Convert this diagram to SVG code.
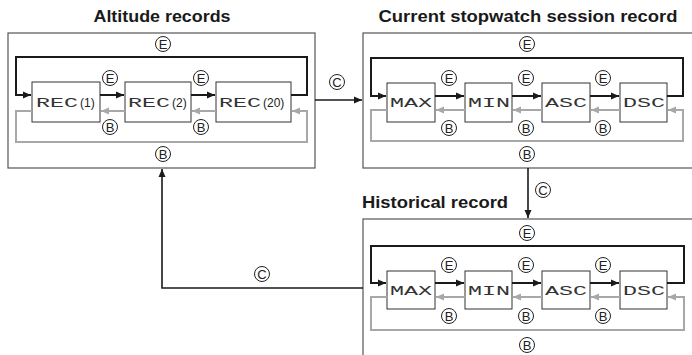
<svg xmlns="http://www.w3.org/2000/svg" width="692" height="355" viewBox="0 0 692 355">
<style>
.title{font-family:"Liberation Sans",Arial,sans-serif;font-weight:bold;font-size:16px;fill:#1a1a1a}
.panel{fill:#fff;stroke:#555;stroke-width:1.2}
.box{fill:#fff;stroke:#333;stroke-width:1}
.lcd{font-family:"Liberation Mono","DejaVu Sans Mono",monospace;font-size:13px;fill:#333}
.paren{font-family:"Liberation Sans",Arial,sans-serif;font-size:12px;fill:#222}
.blk{fill:none;stroke:#1a1a1a;stroke-width:2}
.gry{fill:none;stroke:#a8a8a8;stroke-width:2}
.conn{fill:none;stroke:#1a1a1a;stroke-width:1.6}
.ring{fill:#fff;stroke:#222;stroke-width:1}
.lt{font-family:"Liberation Sans",Arial,sans-serif;font-size:13px;fill:#222;text-anchor:middle}
</style>
<defs>
<marker id="ab" markerUnits="userSpaceOnUse" markerWidth="9" markerHeight="8" refX="8" refY="4" orient="auto"><path d="M0,0.5 L8,4 L0,7.5 z" fill="#1a1a1a"/></marker>
<marker id="ag" markerUnits="userSpaceOnUse" markerWidth="9" markerHeight="8" refX="8" refY="4" orient="auto"><path d="M0,0.5 L8,4 L0,7.5 z" fill="#a8a8a8"/></marker>
</defs>

<text class="title" x="162" y="22" text-anchor="middle" textLength="137" lengthAdjust="spacingAndGlyphs">Altitude records</text>
<text class="title" x="528" y="22" text-anchor="middle" textLength="299" lengthAdjust="spacingAndGlyphs">Current stopwatch session record</text>
<text class="title" x="362" y="208" textLength="146" lengthAdjust="spacingAndGlyphs">Historical record</text>

<!-- Panel 1 -->
<g id="altitude-records">
<rect class="panel" x="8" y="33" width="307" height="135"/>
<g id="rec1"><rect class="box" x="32" y="82" width="68" height="40"/><text class="lcd" x="36" y="107" textLength="42" lengthAdjust="spacingAndGlyphs">REC</text><text class="paren" x="80" y="107">(1)</text></g>
<g id="rec2"><rect class="box" x="125" y="82" width="66" height="40"/><text class="lcd" x="128" y="107" textLength="42" lengthAdjust="spacingAndGlyphs">REC</text><text class="paren" x="172" y="107">(2)</text></g>
<g id="rec20"><rect class="box" x="216" y="82" width="75" height="40"/><text class="lcd" x="219" y="107" textLength="42" lengthAdjust="spacingAndGlyphs">REC</text><text class="paren" x="263" y="107">(20)</text></g>
</g>

<!-- Panel 2 -->
<g id="current-session">
<rect class="panel" x="363" y="33" width="330" height="135"/>
<g id="cur-max"><rect class="box" x="387" y="83" width="48" height="39"/><text class="lcd" x="390" y="107" textLength="42" lengthAdjust="spacingAndGlyphs">MAX</text></g>
<g id="cur-min"><rect class="box" x="465" y="83" width="47" height="39"/><text class="lcd" x="468" y="107" textLength="42" lengthAdjust="spacingAndGlyphs">MIN</text></g>
<g id="cur-asc"><rect class="box" x="542" y="83" width="48" height="39"/><text class="lcd" x="545" y="107" textLength="42" lengthAdjust="spacingAndGlyphs">ASC</text></g>
<g id="cur-dsc"><rect class="box" x="620" y="83" width="47" height="39"/><text class="lcd" x="623" y="107" textLength="42" lengthAdjust="spacingAndGlyphs">DSC</text></g>
</g>

<!-- Panel 3 -->
<g id="historical-record">
<rect class="panel" x="363" y="219" width="330" height="145"/>
<g id="his-max"><rect class="box" x="387" y="271" width="48" height="38"/><text class="lcd" x="390" y="295" textLength="42" lengthAdjust="spacingAndGlyphs">MAX</text></g>
<g id="his-min"><rect class="box" x="465" y="271" width="47" height="38"/><text class="lcd" x="468" y="295" textLength="42" lengthAdjust="spacingAndGlyphs">MIN</text></g>
<g id="his-asc"><rect class="box" x="542" y="271" width="48" height="38"/><text class="lcd" x="545" y="295" textLength="42" lengthAdjust="spacingAndGlyphs">ASC</text></g>
<g id="his-dsc"><rect class="box" x="620" y="271" width="47" height="38"/><text class="lcd" x="623" y="295" textLength="42" lengthAdjust="spacingAndGlyphs">DSC</text></g>
</g>

<g id="connectors">
<!-- panel 1 -->
<path class="blk" d="M291,95 H307 V57 H16 V95 H31" marker-end="url(#ab)"/>
<path class="blk" d="M100,95 H124" marker-end="url(#ab)"/>
<path class="blk" d="M191,95 H215" marker-end="url(#ab)"/>
<path class="gry" d="M125,111 H101" marker-end="url(#ag)"/>
<path class="gry" d="M216,111 H192" marker-end="url(#ag)"/>
<path class="gry" d="M32,111 H16 V142 H307 V111 H292" marker-end="url(#ag)"/>
<!-- panel 2 -->
<path class="blk" d="M667,96 H683 V58 H371 V96 H386" marker-end="url(#ab)"/>
<path class="blk" d="M435,96 H464" marker-end="url(#ab)"/>
<path class="blk" d="M512,96 H541" marker-end="url(#ab)"/>
<path class="blk" d="M590,96 H619" marker-end="url(#ab)"/>
<path class="gry" d="M465,110 H436" marker-end="url(#ag)"/>
<path class="gry" d="M542,110 H513" marker-end="url(#ag)"/>
<path class="gry" d="M620,110 H591" marker-end="url(#ag)"/>
<path class="gry" d="M387,110 H371 V141 H683 V110 H668" marker-end="url(#ag)"/>
<!-- panel 3 -->
<path class="blk" d="M667,283 H684 V246 H371 V283 H386" marker-end="url(#ab)"/>
<path class="blk" d="M435,283 H464" marker-end="url(#ab)"/>
<path class="blk" d="M512,283 H541" marker-end="url(#ab)"/>
<path class="blk" d="M590,283 H619" marker-end="url(#ab)"/>
<path class="gry" d="M465,297 H436" marker-end="url(#ag)"/>
<path class="gry" d="M542,297 H513" marker-end="url(#ag)"/>
<path class="gry" d="M620,297 H591" marker-end="url(#ag)"/>
<path class="gry" d="M387,297 H371 V330 H684 V297 H668" marker-end="url(#ag)"/>
<!-- C transitions -->
<path class="conn" d="M315,100 H362" marker-end="url(#ab)"/>
<path class="conn" d="M528,168 V218" marker-end="url(#ab)"/>
<path class="conn" d="M363,288 H162 V169" marker-end="url(#ab)"/>

<!-- circled labels -->
<g id="labels">
<circle class="ring" cx="163" cy="44" r="7.5"/><text class="lt" x="163" y="48.7">E</text>
<circle class="ring" cx="110" cy="78" r="7.5"/><text class="lt" x="110" y="82.7">E</text>
<circle class="ring" cx="201" cy="78" r="7.5"/><text class="lt" x="201" y="82.7">E</text>
<circle class="ring" cx="110" cy="127" r="7.5"/><text class="lt" x="110" y="131.7">B</text>
<circle class="ring" cx="201" cy="127" r="7.5"/><text class="lt" x="201" y="131.7">B</text>
<circle class="ring" cx="163" cy="154" r="7.5"/><text class="lt" x="163" y="158.7">B</text>

<circle class="ring" cx="527" cy="44" r="7.5"/><text class="lt" x="527" y="48.7">E</text>
<circle class="ring" cx="449" cy="78" r="7.5"/><text class="lt" x="449" y="82.7">E</text>
<circle class="ring" cx="526" cy="78" r="7.5"/><text class="lt" x="526" y="82.7">E</text>
<circle class="ring" cx="603" cy="78" r="7.5"/><text class="lt" x="603" y="82.7">E</text>
<circle class="ring" cx="449" cy="128" r="7.5"/><text class="lt" x="449" y="132.7">B</text>
<circle class="ring" cx="526" cy="128" r="7.5"/><text class="lt" x="526" y="132.7">B</text>
<circle class="ring" cx="603" cy="128" r="7.5"/><text class="lt" x="603" y="132.7">B</text>
<circle class="ring" cx="527" cy="154" r="7.5"/><text class="lt" x="527" y="158.7">B</text>

<circle class="ring" cx="527" cy="233" r="7.5"/><text class="lt" x="527" y="237.7">E</text>
<circle class="ring" cx="449" cy="265" r="7.5"/><text class="lt" x="449" y="269.7">E</text>
<circle class="ring" cx="526" cy="265" r="7.5"/><text class="lt" x="526" y="269.7">E</text>
<circle class="ring" cx="603" cy="265" r="7.5"/><text class="lt" x="603" y="269.7">E</text>
<circle class="ring" cx="449" cy="316" r="7.5"/><text class="lt" x="449" y="320.7">B</text>
<circle class="ring" cx="526" cy="316" r="7.5"/><text class="lt" x="526" y="320.7">B</text>
<circle class="ring" cx="603" cy="316" r="7.5"/><text class="lt" x="603" y="320.7">B</text>
<circle class="ring" cx="527" cy="345" r="7.5"/><text class="lt" x="527" y="349.7">B</text>

<circle class="ring" cx="337" cy="82" r="7.5"/><text class="lt" x="337" y="86.7">C</text>
<circle class="ring" cx="543" cy="190" r="7.5"/><text class="lt" x="543" y="194.7">C</text>
<circle class="ring" cx="262" cy="274" r="7.5"/><text class="lt" x="262" y="278.7">C</text>
</g>
</g>
</svg>
